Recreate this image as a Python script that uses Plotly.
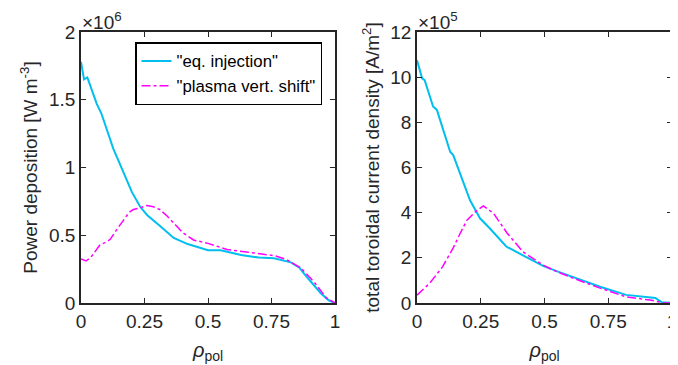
import plotly.graph_objects as go

# ---- data ----
rho_p_eq = [0, 0.012, 0.025, 0.04, 0.062, 0.08, 0.10, 0.127, 0.15, 0.178, 0.20, 0.233, 0.26, 0.31,
            0.365, 0.42, 0.50, 0.55, 0.63, 0.70, 0.76, 0.826, 0.86, 0.89, 0.92, 0.945, 0.975, 1.0]
pdep_eq = [1.78, 1.65, 1.665, 1.58, 1.47, 1.40, 1.29, 1.14, 1.04, 0.91, 0.82, 0.71, 0.65, 0.57,
           0.48, 0.435, 0.39, 0.39, 0.355, 0.335, 0.33, 0.30, 0.26, 0.19, 0.12, 0.07, 0.02, 0.0]

rho_p_vs = [0, 0.02, 0.04, 0.075, 0.10, 0.115, 0.14, 0.166, 0.19, 0.206, 0.23, 0.26, 0.285, 0.31,
            0.34, 0.365, 0.40, 0.443, 0.5, 0.575, 0.68, 0.76, 0.81, 0.865, 0.92, 0.965, 1.0]
pdep_vs = [0.325, 0.31, 0.34, 0.43, 0.45, 0.47, 0.54, 0.61, 0.67, 0.69, 0.70, 0.72, 0.71, 0.69,
           0.64, 0.59, 0.52, 0.465, 0.44, 0.395, 0.37, 0.35, 0.32, 0.26, 0.15, 0.04, 0.0]

rho_j_eq = [0, 0.02, 0.03, 0.05, 0.063, 0.078, 0.10, 0.13, 0.142, 0.18, 0.208, 0.247, 0.286, 0.35,
            0.415, 0.494, 0.55, 0.612, 0.718, 0.82, 0.914, 0.935, 0.96, 1.0]
jtor_eq = [10.75, 9.95, 9.87, 9.12, 8.7, 8.55, 7.8, 6.7, 6.55, 5.45, 4.55, 3.75, 3.3, 2.5,
           2.1, 1.64, 1.4, 1.15, 0.72, 0.36, 0.27, 0.22, 0.03, 0.0]

rho_j_vs = [0, 0.05, 0.1, 0.142, 0.17, 0.196, 0.23, 0.26, 0.3, 0.353, 0.416, 0.494, 0.55, 0.612,
            0.718, 0.82, 0.914, 0.97, 1.0]
jtor_vs = [0.35, 0.88, 1.6, 2.44, 3.1, 3.67, 4.05, 4.3, 3.97, 3.1, 2.26, 1.68, 1.38, 1.1,
           0.66, 0.27, 0.13, 0.0, 0.0]

x_ticks = [0, 0.25, 0.5, 0.75, 1]
x_ticklabels = ["0", "0.25", "0.5", "0.75", "1"]
y1_ticks = [0, 0.5, 1, 1.5, 2]
y1_ticklabels = ["0", "0.5", "1", "1.5", "2"]
y2_ticks = [0, 2, 4, 6, 8, 10, 12]

names = ['"eq. injection"', '"plasma vert. shift"']
c_eq = "#00BFEF"
c_vs = "#FF00FF"

FONT = "Liberation Sans, Arial, sans-serif"
AX = "#262626"

fig = go.Figure()
fig.add_trace(go.Scatter(x=rho_p_eq, y=pdep_eq, mode="lines", name=names[0],
                         line=dict(color=c_eq, width=2), xaxis="x", yaxis="y"))
fig.add_trace(go.Scatter(x=rho_p_vs, y=pdep_vs, mode="lines", name=names[1],
                         line=dict(color=c_vs, width=1.5, dash="dashdot"), xaxis="x", yaxis="y"))
fig.add_trace(go.Scatter(x=rho_j_eq, y=jtor_eq, mode="lines", showlegend=False,
                         line=dict(color=c_eq, width=2), xaxis="x2", yaxis="y2"))
fig.add_trace(go.Scatter(x=rho_j_vs, y=jtor_vs, mode="lines", showlegend=False,
                         line=dict(color=c_vs, width=1.5, dash="dashdot"), xaxis="x2", yaxis="y2"))

W, H = 678, 365
OFF = 8  # page body margin offset
ydom = [1 - (303 - OFF) / H, 1 - (32 - OFF) / H]

axcommon = dict(showline=True, linecolor=AX, linewidth=1.5, mirror="ticks", ticks="inside",
                ticklen=5, tickcolor=AX, tickwidth=1, showgrid=False, zeroline=False,
                ticklabeloverflow="allow", automargin=False,
                tickfont=dict(family=FONT, size=19, color=AX))

fig.update_layout(
    width=W, height=H, margin=dict(l=0, r=0, t=0, b=0, autoexpand=False),
    paper_bgcolor="white", plot_bgcolor="white",
    font=dict(family=FONT, color=AX),
    xaxis=dict(domain=[(81 - OFF) / W, (335 - OFF) / W], range=[0, 1], tickvals=x_ticks, ticktext=x_ticklabels,
               title=dict(text="<i>ρ</i><sub>pol</sub>", font=dict(size=20), standoff=12),
               anchor="y", **axcommon),
    yaxis=dict(domain=ydom, range=[0, 2], tickvals=y1_ticks, ticktext=y1_ticklabels,
               title=dict(text="Power deposition [W m<sup>-3</sup>]", font=dict(size=19), standoff=6),
               anchor="x", **axcommon),
    xaxis2=dict(domain=[(417 - OFF) / W, (672 - OFF) / W], range=[0, 1], tickvals=x_ticks, ticktext=x_ticklabels,
                title=dict(text="<i>ρ</i><sub>pol</sub>", font=dict(size=20), standoff=12),
                anchor="y2", **axcommon),
    yaxis2=dict(domain=ydom, range=[0, 12], tickvals=y2_ticks,
                title=dict(text="total toroidal current density [A/m<sup>2</sup>]", font=dict(size=19), standoff=6),
                anchor="x2", **axcommon),
    legend=dict(x=(135 - OFF) / W, y=1 - (42 - OFF) / H, xanchor="left", yanchor="top",
                bgcolor="white", bordercolor="#000000", borderwidth=1.5,
                font=dict(family=FONT, size=16.8, color="#000000"),
                tracegroupgap=0, itemwidth=30),
    annotations=[
        dict(text="×10<sup>6</sup>", x=(81 - OFF) / W, y=1 - (34 - OFF) / H, xref="paper", yref="paper",
             xanchor="left", yanchor="bottom", showarrow=False, borderpad=0,
             font=dict(family=FONT, size=19, color=AX)),
        dict(text="×10<sup>5</sup>", x=(417 - OFF) / W, y=1 - (34 - OFF) / H, xref="paper", yref="paper",
             xanchor="left", yanchor="bottom", showarrow=False, borderpad=0,
             font=dict(family=FONT, size=19, color=AX)),
    ],
)

fig.write_html("out.html")
